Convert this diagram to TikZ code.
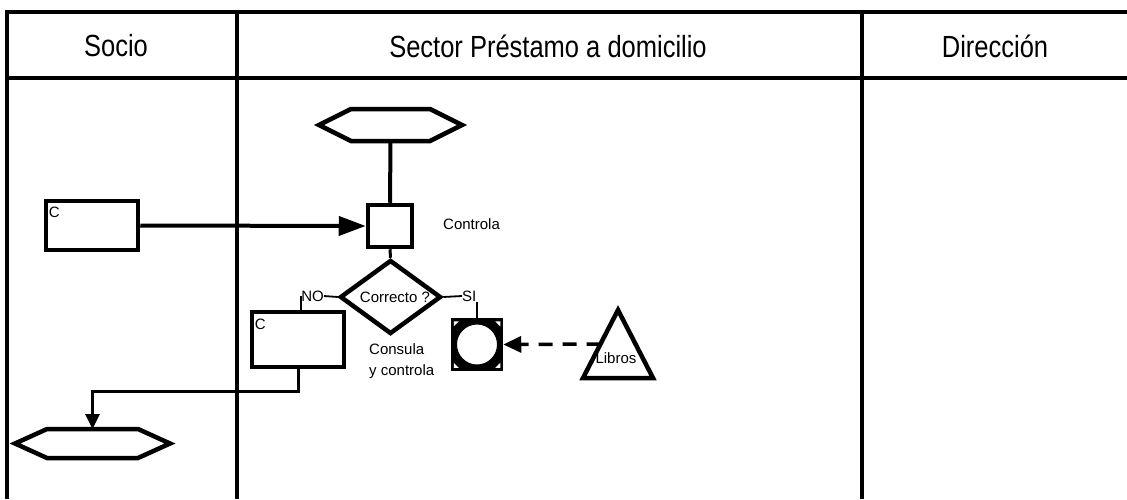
\documentclass[tikz,border=0pt]{standalone}
\usepackage{fontspec}
\setmainfont{Liberation Sans}
\usetikzlibrary{shapes.geometric,arrows.meta,calc}
\newcommand{\tallhead}[1]{\scalebox{1}[1.2]{#1}}
\begin{document}
\begin{tikzpicture}[x=1pt,y=-1pt,
  frame/.style={line width=4.5pt},
  box/.style={draw,line width=4.5pt,inner sep=0pt},
  head/.style={font=\fontsize{25.5}{30}\selectfont},
  small/.style={font=\fontsize{15}{18}\selectfont,inner sep=0pt},
  thin/.style={line width=1.8pt},
  ghost/.style={inner sep=0pt,outer sep=0pt}]
\useasboundingbox (0,0) rectangle (1127,499);
% lanes
\coordinate (tl) at (5,12);
\coordinate (tr) at (1127,12);
\coordinate (hl) at (5,78);
\coordinate (hr) at (1127,78);
\coordinate (v0t) at (7,10); \coordinate (v0b) at (7,499);
\coordinate (v1t) at (237,10); \coordinate (v1b) at (237,499);
\coordinate (v2t) at (862,10); \coordinate (v2b) at (862,499);
\draw[line width=3.5pt] (tl) -- (tr);
\draw[frame] (hl) -- (hr);
\draw[frame] (v0t) -- (v0b);
\draw[frame] (v1t) -- (v1b);
\draw[frame] (v2t) -- (v2b);
\node[head] (hs) at (116,46) {\tallhead{Socio}};
\node[head] (hp) at (548,46) {\tallhead{Sector Préstamo a domicilio}};
\node[head] (hd) at (995,46) {\tallhead{Dirección}};
% top hexagon
\node[ghost,minimum width=143pt,minimum height=32pt] (h1) at (390.5,125) {};
\draw[line width=4.5pt,line join=miter] (h1.west) -- ([xshift=32pt]h1.north west) -- ([xshift=-32pt]h1.north east) -- (h1.east) -- ([xshift=-32pt]h1.south east) -- ([xshift=32pt]h1.south west) -- cycle;
% control square
\node[box,minimum width=44pt,minimum height=42pt] (sq) at (390,226) {};
\node[small,anchor=west] (ctl) at (443,224) {Controla};
% socio doc
\node[box,minimum width=92pt,minimum height=49pt] (c1) at (92,225.5) {};
\node[small,anchor=north west] (c1l) at ([xshift=5pt,yshift=-8pt]c1.north west) {C};
% diamond
\node[draw,diamond,line width=4.5pt,inner sep=0pt,minimum width=101pt,minimum height=74pt] (dia) at (390.5,297) {};
\node[small] (dtx) at (395,297) {Correcto ?};
\node[small,anchor=east] (no) at (324,296) {NO};
\node[small,anchor=west] (si) at (462,296) {SI};
% second doc
\node[box,minimum width=92pt,minimum height=55pt] (c2) at (298,339.5) {};
\node[small,anchor=north west] (c2l) at ([xshift=5pt,yshift=-9pt]c2.north west) {C};
\node[small,anchor=north west,align=left] (cons) at (369,343) {Consula\\[3pt]y controla};
% circle in square
\node[box,fill=black,minimum width=48pt,minimum height=48pt] (cs) at (477,344.5) {};
\fill[white] ([xshift=3pt,yshift=-3pt]cs.north west) -- ++(5,0) -- ++(-5,5) -- cycle;
\fill[white] ([xshift=-3pt,yshift=-3pt]cs.north east) -- ++(-5,0) -- ++(5,5) -- cycle;
\fill[white] ([xshift=3pt,yshift=3pt]cs.south west) -- ++(5,0) -- ++(-5,-5) -- cycle;
\fill[white] ([xshift=-3pt,yshift=3pt]cs.south east) -- ++(-5,0) -- ++(5,-5) -- cycle;
\node[circle,fill=white,draw=black,line width=1pt,minimum size=41pt,inner sep=0pt] (ci) at (cs.center) {};
% triangle
\node[ghost,minimum width=70pt,minimum height=68pt] (tri) at (618,344) {};
\draw[line width=4.5pt,line join=miter] (tri.north) -- (tri.south east) -- (tri.south west) -- cycle;
\node[small] (lib) at (616,358) {Libros};
\coordinate (trl) at ($(tri.north)!0.5!(tri.south west)$);
% bottom hexagon
\node[ghost,minimum width=155pt,minimum height=29pt] (h2) at (92.5,443.5) {};
\draw[line width=4.5pt,line join=miter] (h2.west) -- ([xshift=32pt]h2.north west) -- ([xshift=-32pt]h2.north east) -- (h2.east) -- ([xshift=-32pt]h2.south east) -- ([xshift=32pt]h2.south west) -- cycle;
% connectors
\draw[line width=4pt,-{Triangle[length=27pt,width=19pt]}] (c1.east) -- (sq.west);
\draw[line width=4pt] (h1.south) -- (sq.north);
\draw[line width=3pt] (sq.south) -- (dia.north);
\draw[thin] (dia.west) -- (no.east);
\draw[thin] (no.west) -- (no.west |- c2.north);
\draw[thin] (dia.east) -- (si.west);
\draw[thin] (cs.north) -- (cs.north |- si.south);
\draw[line width=3.5pt,dash pattern=on 14pt off 10pt,-{Triangle[length=18pt,width=16pt]}] (trl) -- (cs.east);
\draw[line width=3pt,-{Triangle[length=15pt,width=14pt]}] (c2.south) -- ([yshift=-22pt]c2.south) -| (h2.north);
\end{tikzpicture}
\end{document}
